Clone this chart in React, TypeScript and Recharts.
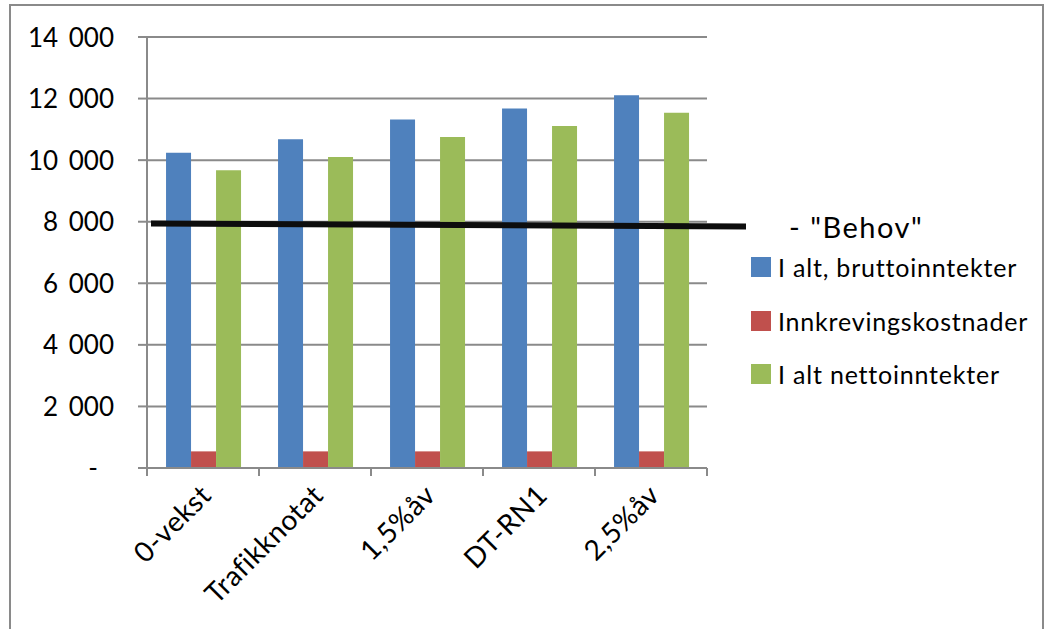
import { Bar, CartesianGrid, ComposedChart, ReferenceLine, XAxis, YAxis } from 'recharts'

const categories = ['0-vekst', 'Trafikknotat', '1,5%åv', 'DT-RN1', '2,5%åv']
const brutto = [10240, 10680, 11320, 11680, 12110]
const innkreving = [540, 540, 540, 540, 540]
const netto = [9670, 10100, 10750, 11110, 11540]
const behov = 7910
const yTicks = [0, 2000, 4000, 6000, 8000, 10000, 12000, 14000]

const seriesNames = ['I alt, bruttoinntekter', 'Innkrevingskostnader', 'I alt nettoinntekter']
const colors = ['#4F81BD', '#C0504D', '#9BBB59']

const rows = categories.map((name, i) => ({
  name,
  brutto: brutto[i],
  innkreving: innkreving[i],
  netto: netto[i],
}))

const FONT = 'Lato, "Open Sans", sans-serif'
const GRID = '#8a8a8a'

function YTick(props: any) {
  const { x, y, payload } = props
  const v: number = payload.value
  if (v === 0) {
    return (
      <text x={x - 16} y={y} dy={9} textAnchor="end" fontSize={26} fill="#000" fontFamily={FONT}>
        -
      </text>
    )
  }
  const thousands = Math.floor(v / 1000)
  return (
    <text x={x} y={y} dy={9.5} textAnchor="end" fontSize={26} fill="#000" fontFamily={FONT}>
      <tspan>{thousands}</tspan>
      <tspan dx={4}> 000</tspan>
    </text>
  )
}

function XTick(props: any) {
  const { x, y, payload, index, width, visibleTicksCount } = props
  const band = width && visibleTicksCount ? width / visibleTicksCount : 112
  const left = x - band / 2
  const ax = x + 10
  const ay = y + 29
  return (
    <g>
      <line x1={left} y1={y} x2={left} y2={y + 8} stroke={GRID} strokeWidth={2} />
      {index === visibleTicksCount - 1 && (
        <line x1={x + band / 2} y1={y} x2={x + band / 2} y2={y + 8} stroke={GRID} strokeWidth={2} />
      )}
      <text
        x={ax}
        y={ay}
        transform={`rotate(-45 ${ax} ${ay})`}
        textAnchor="end"
        fontSize={28}
        letterSpacing={0.5}
        fill="#000"
        fontFamily={FONT}
      >
        {payload.value}
      </text>
    </g>
  )
}

function LegendBox() {
  return (
    <div style={{ position: 'absolute', left: 751, top: 205, width: 295, height: 190, fontFamily: FONT, color: '#000' }}>
      <div
        style={{
          position: 'absolute',
          left: 38,
          top: 4,
          fontSize: 29,
          letterSpacing: 1.5,
          lineHeight: '36px',
          whiteSpace: 'nowrap',
        }}
      >
        - "Behov"
      </div>
      {seriesNames.map((s, i) => (
        <div
          key={s}
          style={{
            position: 'absolute',
            left: 0,
            top: [46, 100, 153][i],
            height: 32,
            display: 'flex',
            alignItems: 'center',
            fontSize: 25,
            letterSpacing: 0.8,
            whiteSpace: 'nowrap',
          }}
        >
          <span style={{ width: 20, height: 20, background: colors[i], marginRight: 7, display: 'inline-block' }} />
          {s}
        </div>
      ))}
    </div>
  )
}

function BehovLine(props: any) {
  const { x1, y1, x2 } = props
  return <line x1={x1 + 4} y1={y1 - 1} x2={x2 + 39} y2={y1 + 2} stroke="#0d0d0d" strokeWidth={6} />
}

export default function App() {
  return (
    <div style={{ position: 'absolute', left: 0, top: 0, width: 1050, height: 629, background: '#fff', overflow: 'hidden' }}>
      <div
        style={{
          position: 'absolute',
          left: 9,
          top: 4,
          width: 1031,
          height: 640,
          border: `2px solid ${GRID}`,
        }}
      />
      <div style={{ position: 'absolute', left: 0, top: 0 }}>
        <ComposedChart
          width={1050}
          height={629}
          data={rows}
          margin={{ top: 37, right: 343, bottom: 41, left: 67 }}
          barCategoryGap="17%"
          barGap={0}
        >
          <CartesianGrid vertical={false} stroke={GRID} strokeWidth={2} />
          <XAxis
            dataKey="name"
            height={120}
            tickLine={false}
            tickSize={0}
            tickMargin={0}
            axisLine={{ stroke: GRID, strokeWidth: 2 }}
            tick={<XTick />}
            interval={0}
          />
          <YAxis
            width={80}
            domain={[0, 14000]}
            ticks={yTicks}
            tickSize={9}
            tickMargin={24}
            tickLine={{ stroke: GRID, strokeWidth: 2 }}
            axisLine={{ stroke: GRID, strokeWidth: 2 }}
            tick={<YTick />}
          />
          <Bar dataKey="brutto" name={seriesNames[0]} fill={colors[0]} isAnimationActive={false} />
          <Bar dataKey="innkreving" name={seriesNames[1]} fill={colors[1]} isAnimationActive={false} />
          <Bar dataKey="netto" name={seriesNames[2]} fill={colors[2]} isAnimationActive={false} />
          <ReferenceLine y={behov} shape={<BehovLine />} ifOverflow="visible" />
        </ComposedChart>
      </div>
      <LegendBox />
    </div>
  )
}
